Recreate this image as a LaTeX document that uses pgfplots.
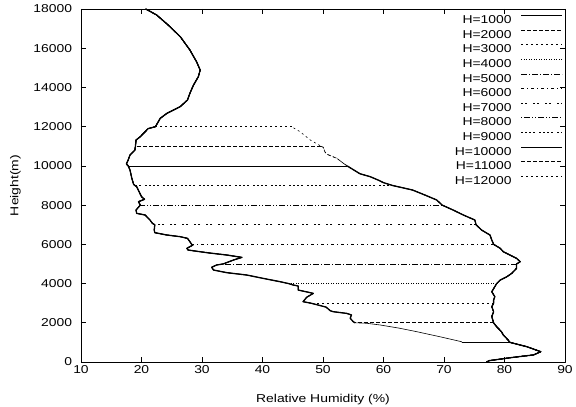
\documentclass[border=0pt]{standalone}
\usepackage{fontspec}
\setmainfont{Liberation Sans}[FakeStretch=1.22]
\usepackage{pgfplots}
\pgfplotsset{compat=1.18}
\usepackage{pgfplotstable}

\pgfplotstableread{
h v
0 77.0
70 77.5
240 81.5
360 84.8
525 86.0
780 83.7
1000 80.9
1120 80.6
1380 79.8
1545 79.5
1800 78.7
2000 78.2
2310 77.9
2565 78.2
2820 77.9
3000 78.2
3160 78.2
3330 78.4
3585 77.9
3840 78.4
4000 78.7
4180 79.3
4350 80.4
4520 81.2
4780 82.0
5000 82.0
5115 82.6
5285 82.0
5455 80.9
5625 79.8
5795 79.3
6000 78.2
6220 77.9
6475 77.6
6730 76.2
7000 75.3
7240 75.1
7495 73.2
7750 71.5
8000 69.7
8260 68.8
8520 66.8
8770 64.8
9000 61.5
9145 60.0
9280 59.1
9450 57.8
9600 56.1
9960 54.2
10000 54.0
10125 53.4
10385 52.3
10600 50.6
10725 50.3
10945 50.05
11000 49.7
11320 47.9
11745 46.2
12000 44.8
}\moist

\pgfplotstableread{
h v
1000 73.0
1035 72.9
1290 69.3
1545 65.5
1720 62.7
1890 59.4
1975 57.2
2000 55.3
2055 55.0
2230 54.5
2400 54.7
2480 53.9
2565 51.7
2616 51.2
2800 50.5
3000 48.0
3075 46.7
3300 47.3
3500 48.4
3670 45.9
3875 45.9
3925 45.1
4000 44.3
4095 42.9
4265 40.1
4435 37.4
4555 34.1
4690 31.9
4830 31.6
4945 32.4
5000 33.5
5200 35.2
5335 36.6
5455 34.1
5575 30.8
5710 27.7
5795 27.5
5965 28.5
6000 28.3
6135 28.0
6305 27.6
6390 26.4
6475 24.2
6595 22.2
6730 22.1
7000 22.2
7070 21.8
7240 21.4
7495 20.6
7580 19.2
7750 19.1
8000 19.8
8175 19.5
8295 20.5
8430 20.0
8940 19.2
9000 18.9
9060 18.7
9365 18.4
9790 18.1
10000 17.8
10100 17.5
10300 17.8
10555 18.1
10800 18.9
11000 19.0
11320 19.1
11490 19.8
11900 21.1
12000 22.3
12425 23.1
12680 24.2
13020 26.4
13360 27.6
13700 28.0
14125 28.6
14550 29.4
14890 29.7
15310 29.1
15910 28.0
16590 26.4
17185 24.4
17695 22.5
18000 20.7
}\dry

\tikzset{
 lt0/.style={solid},
 lt1/.style={dash pattern=on 4bp off 2bp},
 lt2/.style={dash pattern=on 2bp off 3bp},
 lt3/.style={dash pattern=on 1bp off 1.5bp},
 lt4/.style={dash pattern=on 6bp off 2bp on 1bp off 2bp},
 lt5/.style={dash pattern=on 3bp off 3bp on 1bp off 3bp},
 lt6/.style={dash pattern=on 2bp off 2bp on 2bp off 6bp},
 lt7/.style={dash pattern=on 1bp off 2bp on 6bp off 2bp on 1bp off 2bp},
 lt8/.style={dash pattern=on 2bp off 2bp on 2bp off 2bp on 2bp off 2bp on 2bp off 4bp},
}

\newcommand{\hseries}[4]{%
 \addplot[black, line width=0.6bp, #2] table[x=v,y=h,restrict y to domain=0:#1]{\moist};
 \addlegendentry{H=#1}
 \addplot[black, line width=0.6bp, #2, forget plot] coordinates {(#3,#1) (#4,#1)};
 \addplot[black, line width=0.6bp, #2, forget plot] table[x=v,y=h,restrict y to domain=#1:18000]{\dry};
}

\begin{document}
\fontsize{11.4bp}{13.7bp}\selectfont
\begin{tikzpicture}
\begin{axis}[
 scale only axis, width=484bp, height=353bp,
 at={(0,0)}, anchor=south west,
 xmin=10, xmax=90, ymin=0, ymax=18000,
 xtick={10,20,...,90}, ytick={0,2000,...,18000},
 /pgf/number format/assume math mode=true,
 /pgf/number format/1000 sep={},
 scaled y ticks=false,
 tick align=inside, major tick length=5bp,
 every tick/.style={black, line width=0.6bp},
 axis line style={line width=0.9bp},
 yticklabel style={xshift=-5bp},
 xlabel={Relative Humidity (\%)}, ylabel={Height(m)},
 xlabel style={at={(axis description cs:0.5,-0.1161)}, anchor=base},
 ylabel style={at={(axis description cs:-0.1295,0.5)}, anchor=base},
 legend style={at={(axis description cs:1,1)}, anchor=north east, xshift=-2bp, yshift=-6bp,
   draw=none, fill=none, inner sep=0pt, row sep=6.1bp, column sep=9.5bp,
   nodes={inner sep=0pt, text height=8.2bp, text depth=0pt}},
 legend cell align=right, legend plot pos=right,
 legend image code/.code={\draw[#1] (0bp,4.1bp) -- (41bp,4.1bp);},
 line join=round,
]
\addplot[black, line width=1.3bp, forget plot] table[x=v,y=h,restrict y to domain=0:10000]{\moist};
\addplot[black, line width=1.3bp, forget plot] table[x=v,y=h,restrict y to domain=2000:18000]{\dry};
\hseries{1000}{lt0}{80.9}{73.0}
\hseries{2000}{lt1}{78.2}{55.3}
\hseries{3000}{lt2}{78.2}{48.0}
\hseries{4000}{lt3}{78.7}{44.3}
\hseries{5000}{lt4}{82.0}{33.5}
\hseries{6000}{lt5}{78.2}{28.3}
\hseries{7000}{lt6}{75.3}{22.2}
\hseries{8000}{lt7}{69.7}{19.8}
\hseries{9000}{lt8}{61.5}{18.9}
\hseries{10000}{lt0}{54.0}{17.8}
\hseries{11000}{lt1}{49.7}{19.0}
\hseries{12000}{lt2}{44.8}{22.3}
\end{axis}
\pgfresetboundingbox
\path (-81bp,-45bp) rectangle (495bp,362bp);
\end{tikzpicture}
\end{document}
